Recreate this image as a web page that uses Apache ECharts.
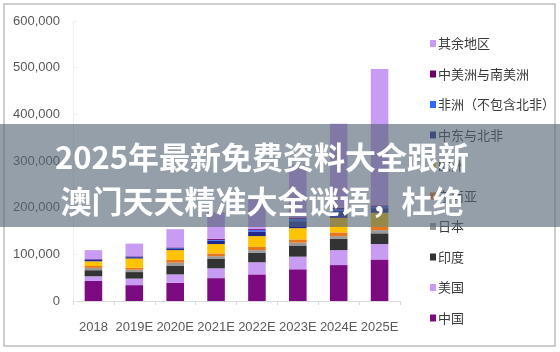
<!DOCTYPE html>
<html>
<head>
<meta charset="utf-8">
<script src="https://cdn.jsdelivr.net/npm/echarts@6/dist/echarts.min.js"></script>
<style>
  html, body { margin: 0; padding: 0; background: #fff; }
  #chart { width: 560px; height: 352px; }
</style>
</head>
<body>
<div id="chart"></div>
<script>
  const categories = ['2018', '2019E', '2020E', '2021E', '2022E', '2023E', '2024E', '2025E']

  // stacked bottom-up
  const china = [43000, 34000, 39000, 49000, 57000, 68000, 77000, 89000]
  const usa = [10000, 14000, 18000, 21000, 26000, 27000, 32000, 33000]
  const india = [13000, 14000, 18000, 20000, 20000, 24000, 24000, 23000]
  const japan = [5000, 5000, 7000, 6000, 6000, 6000, 6000, 7000]
  const seAsia = [4000, 4000, 6000, 6000, 7000, 7000, 8000, 7000]
  const europe = [10000, 20000, 21000, 20000, 23000, 24000, 31000, 30000]
  const mideast = [3000, 3000, 4000, 7000, 10000, 15000, 15000, 10000]
  const africa = [1000, 1000, 1000, 2000, 3000, 5000, 4000, 3000]
  const latam = [1000, 1000, 1000, 2000, 2000, 3000, 3000, 3000]
  const rest = [19000, 27000, 39000, 57000, 64000, 113000, 180000, 292000]

  const yTicks = [0, 100000, 200000, 300000, 400000, 500000, 600000]

  const overlayLines = ['2025年最新免费资料大全跟新', '澳门天天精准大全谜语，杜绝']

  const seriesDefs = [
    { name: '中国', data: china, color: '#7c0a80' },
    { name: '美国', data: usa, color: '#c99cf3' },
    { name: '印度', data: india, color: '#333333' },
    { name: '日本', data: japan, color: '#9a9a9a' },
    { name: '东南亚', data: seAsia, color: '#e8761c' },
    { name: '欧洲', data: europe, color: '#ffc300' },
    { name: '中东与北非', data: mideast, color: '#22288c' },
    { name: '非洲（不包含北非）', data: africa, color: '#2f6bff' },
    { name: '中美洲与南美洲', data: latam, color: '#6a0068' },
    { name: '其余地区', data: rest, color: '#c99cf3' }
  ]

  const chart = echarts.init(document.getElementById('chart'))

  const option = {
    backgroundColor: '#ffffff',
    animation: false,
    grid: { left: 73, right: 160, top: 21, bottom: 51 },
    legend: {
      orient: 'vertical',
      left: 425,
      top: 32,
      itemWidth: 6,
      itemHeight: 7,
      itemGap: 17.5,
      icon: 'rect',
      data: seriesDefs.map(s => s.name).reverse(),
      textStyle: {
        fontFamily: 'Noto Sans CJK SC',
        fontSize: 13,
        color: '#3a3a3a',
        padding: [0, 0, 0, -3]
      }
    },
    xAxis: {
      type: 'category',
      data: categories,
      axisLine: { lineStyle: { color: '#d9d9d9' } },
      axisTick: { show: true, length: 4, lineStyle: { color: '#d9d9d9' } },
      axisLabel: {
        interval: 0,
        hideOverlap: false,
        color: '#595959',
        fontSize: 13,
        fontFamily: 'Liberation Sans',
        margin: 20
      }
    },
    yAxis: {
      type: 'value',
      min: yTicks[0],
      max: yTicks[yTicks.length - 1],
      interval: 100000,
      axisLine: { show: true, lineStyle: { color: '#efefef' } },
      axisTick: { show: true, inside: true, length: 4, lineStyle: { color: '#efefef' } },
      splitLine: { show: false },
      axisLabel: {
        color: '#595959',
        fontSize: 13,
        fontFamily: 'Liberation Sans',
        margin: 13,
        formatter: v => v.toLocaleString('en-US')
      }
    },
    series: seriesDefs.map(s => ({
      name: s.name,
      type: 'bar',
      stack: 'total',
      barWidth: '43%',
      data: s.data,
      itemStyle: { color: s.color },
      emphasis: { disabled: true }
    })),
    graphic: [
      {
        type: 'rect',
        z: 1,
        shape: { x: 4, y: 4, width: 551, height: 342 },
        style: { fill: 'none', stroke: '#bdbdbd', lineWidth: 1.5 }
      },
      {
        type: 'rect',
        z: 100,
        shape: { x: 0, y: 124, width: 560, height: 103 },
        style: { fill: 'rgba(84,100,116,0.62)' }
      },
      {
        type: 'text',
        z: 101,
        style: {
          text: overlayLines[0],
          x: 262,
          y: 157,
          align: 'center',
          verticalAlign: 'middle',
          fill: '#ffffff',
          font: 'bold 31px "Noto Sans CJK SC"'
        }
      },
      {
        type: 'text',
        z: 101,
        style: {
          text: overlayLines[1],
          x: 262,
          y: 201,
          align: 'center',
          verticalAlign: 'middle',
          fill: '#ffffff',
          font: 'bold 31px "Noto Sans CJK SC"'
        }
      }
    ]
  }

  chart.setOption(option)
</script>
</body>
</html>
